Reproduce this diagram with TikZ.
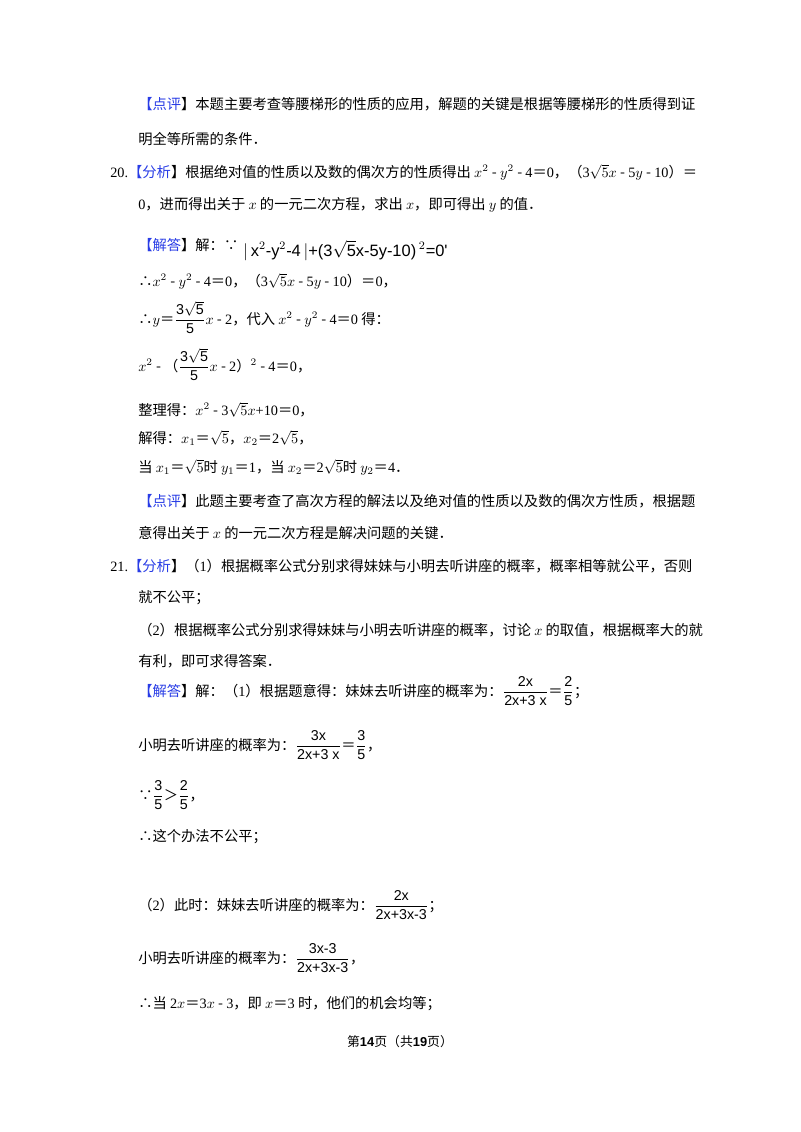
\documentclass[tikz,border=0pt]{standalone}
\usepackage{amsmath}
\usepackage{fontspec}
\setmainfont{Noto Sans CJK SC}
\newfontfamily\arial{Liberation Sans}
\newfontfamily\tms{Liberation Serif}
\definecolor{tagblue}{RGB}{40,60,230}
\newcommand{\tg}[1]{{\color{tagblue}【#1}】}
\newcommand{\sa}[1]{{\arial #1}}
\begin{document}
\begin{tikzpicture}[x=0.7pt,y=-0.7pt,
  ln/.style={anchor=base west,inner sep=0pt,font=\fontsize{10}{12}\selectfont}]
\useasboundingbox[fill=white] (0,0) rectangle (800,1132);
\node[ln] (l1) at (138,109) {\tg{点评}本题主要考查等腰梯形的性质的应用，解题的关键是根据等腰梯形的性质得到证};
\node[ln] (l2) at (138,144) {明全等所需的条件．};
\node[ln] (l3) at (110,177) {{\tms 20.}\tg{分析}根据绝对值的性质以及数的偶次方的性质得出 $x^2$ - $y^2$ - {\tms 4}＝{\tms 0}，（{\tms 3}$\sqrt{5}x$ - {\tms 5}$y$ - {\tms 10}）＝};
\node[ln] (l4) at (138,209) {{\tms 0}，进而得出关于 $x$ 的一元二次方程，求出 $x$，即可得出 $y$ 的值．};
\node[ln] (l5) at (138,250) {\tg{解答}解：∵};
\node[ln,font=\fontsize{11.5}{13}\selectfont] (l5b) at (243,256) {\sa{$|$\,x$^2$-y$^2$-4\,$|$+(3$\sqrt{\text{\sa{5}}}$x-5y-10)\,$^2$=0'}};
\node[ln] (l6) at (138,286) {∴$x^2$ - $y^2$ - {\tms 4}＝{\tms 0}，（{\tms 3}$\sqrt{5}x$ - {\tms 5}$y$ - {\tms 10}）＝{\tms 0}，};
\node[ln] (l7) at (138,324) {∴$y$＝$\dfrac{\text{\sa{3}}\sqrt{\text{\sa{5}}}}{\text{\sa{5}}}x$ - {\tms 2}，代入 $x^2$ - $y^2$ - {\tms 4}＝{\tms 0} 得：};
\node[ln] (l8) at (138,371) {$x^2$ - （$\dfrac{\text{\sa{3}}\sqrt{\text{\sa{5}}}}{\text{\sa{5}}}x$ - {\tms 2}）$^2$ - {\tms 4}＝{\tms 0}，};
\node[ln] (l9) at (138,415) {整理得：$x^2$ - {\tms 3}$\sqrt{5}x${\tms +10}＝{\tms 0}，};
\node[ln] (l10) at (138,443) {解得：$x_1$＝$\sqrt{5}$，$x_2$＝{\tms 2}$\sqrt{5}$，};
\node[ln] (l11) at (138,472) {当 $x_1$＝$\sqrt{5}$时 $y_1$＝{\tms 1}，当 $x_2$＝{\tms 2}$\sqrt{5}$时 $y_2$＝{\tms 4}．};
\node[ln] (l12) at (138,506) {\tg{点评}此题主要考查了高次方程的解法以及绝对值的性质以及数的偶次方性质，根据题};
\node[ln] (l13) at (138,538) {意得出关于 $x$ 的一元二次方程是解决问题的关键．};
\node[ln] (l14) at (110,571) {{\tms 21.}\tg{分析}（{\tms 1}）根据概率公式分别求得妹妹与小明去听讲座的概率，概率相等就公平，否则};
\node[ln] (l15) at (138,602) {就不公平；};
\node[ln] (l16) at (138,635) {（{\tms 2}）根据概率公式分别求得妹妹与小明去听讲座的概率，讨论 $x$ 的取值，根据概率大的就};
\node[ln] (l17) at (138,666) {有利，即可求得答案．};
\node[ln] (l18) at (138,696) {\tg{解答}解：（{\tms 1}）根据题意得：妹妹去听讲座的概率为：$\dfrac{\text{\sa{2x}}}{\text{\sa{2x+3 x}}}$＝$\dfrac{\text{\sa{2}}}{\text{\sa{5}}}$；};
\node[ln] (l19) at (138,750) {小明去听讲座的概率为：$\dfrac{\text{\sa{3x}}}{\text{\sa{2x+3 x}}}$＝$\dfrac{\text{\sa{3}}}{\text{\sa{5}}}$，};
\node[ln] (l20) at (138,800) {∵$\dfrac{\text{\sa{3}}}{\text{\sa{5}}}$＞$\dfrac{\text{\sa{2}}}{\text{\sa{5}}}$，};
\node[ln] (l21) at (138,841) {∴这个办法不公平；};
\node[ln] (l22) at (138,910) {（{\tms 2}）此时：妹妹去听讲座的概率为：$\dfrac{\text{\sa{2x}}}{\text{\sa{2x+3x-3}}}$；};
\node[ln] (l23) at (138,963) {小明去听讲座的概率为：$\dfrac{\text{\sa{3x-3}}}{\text{\sa{2x+3x-3}}}$，};
\node[ln] (l24) at (138,1008) {∴当 {\tms 2}$x$＝{\tms 3}$x$ - {\tms 3}，即 $x$＝{\tms 3} 时，他们的机会均等；};
\node[anchor=base,inner sep=0pt,font=\fontsize{9}{11}\selectfont] (ft) at (400,1046) {第\textbf{\sa{14}}页（共\textbf{\sa{19}}页）};
\end{tikzpicture}
\end{document}
